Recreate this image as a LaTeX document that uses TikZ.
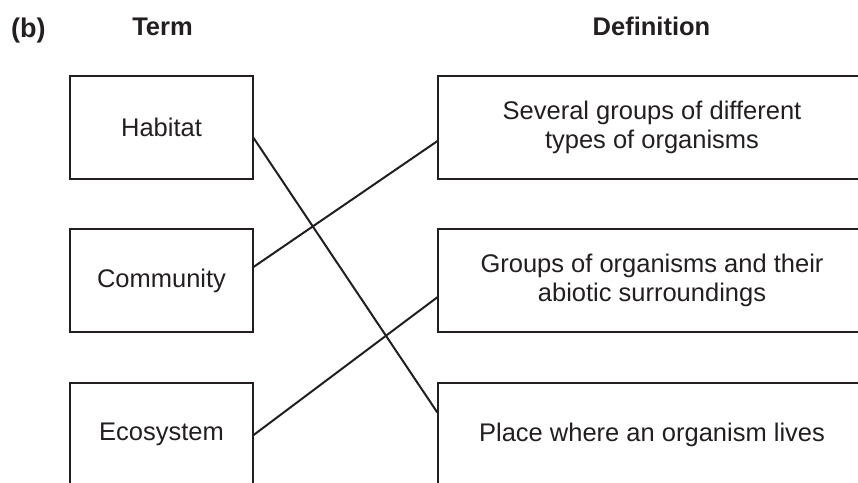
\documentclass[tikz,border=0pt]{standalone}
\usepackage{fontspec}
\setmainfont{Liberation Sans}
\usetikzlibrary{calc}
\definecolor{ink}{HTML}{231F20}
\begin{document}
\begin{tikzpicture}[x=1pt,y=-1pt,
  txt/.style={font=\fontsize{25.5}{29}\selectfont, text=ink, align=center, inner sep=0pt},
  hdr/.style={font=\fontsize{25.5}{29}\selectfont\bfseries, text=ink, inner sep=0pt},
  termbox/.style={draw=ink, line width=1.1pt, minimum width=183pt, minimum height=103pt, txt},
  defbox/.style={draw=ink, line width=1.1pt, minimum width=428pt, minimum height=103pt, txt},
  link/.style={draw=ink, line width=2pt}]
\useasboundingbox (0,0) rectangle (858,482);
\clip (0,0) rectangle (858,482);
\fill[white] (0,0) rectangle (858,482);
\node[hdr, font=\fontsize{27}{30}\selectfont\bfseries, anchor=base west] (b) at (11,37) {(b)};
\node[hdr, anchor=base] (term) at (162.5,35) {Term};
\node[hdr, anchor=base] (def) at (651.5,35) {Definition};
\node[termbox] (hab) at (161.5,127.5) {Habitat};
\node[termbox] (com) at (161.5,280.5) {Community};
\node[termbox] (eco) at (161.5,434.5) {Ecosystem};
\node[defbox] (sev) at (652,127.5) {Several groups of different\\types of organisms};
\node[defbox] (grp) at (652,280.5) {Groups of organisms and their\\abiotic surroundings};
\node[defbox] (plc) at (652,434.5) {Place where an organism lives};
\coordinate (habo) at ($(hab.north east)!0.6!(hab.south east)$);
\coordinate (como) at ($(com.north east)!0.37!(com.south east)$);
\coordinate (ecoo) at ($(eco.north east)!0.505!(eco.south east)$);
\coordinate (sevi) at ($(sev.north west)!0.63!(sev.south west)$);
\coordinate (grpi) at ($(grp.north west)!0.66!(grp.south west)$);
\coordinate (plci) at ($(plc.north west)!0.29!(plc.south west)$);
\draw[link] (habo) -- (plci);
\draw[link] (como) -- (sevi);
\draw[link] (ecoo) -- (grpi);
\end{tikzpicture}
\end{document}
